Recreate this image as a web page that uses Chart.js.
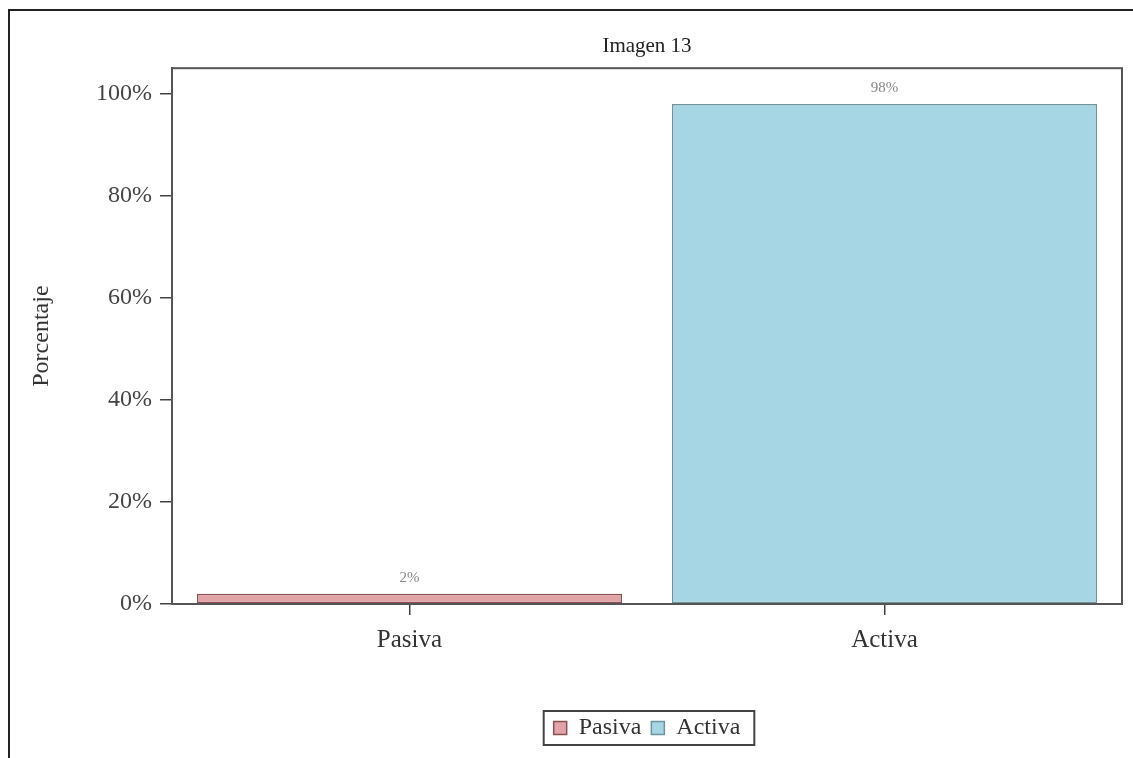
<!DOCTYPE html>
<html>
<head>
<meta charset="utf-8">
<script src="https://cdn.jsdelivr.net/npm/chart.js@4"></script>
<style>
    body { margin: 0; overflow: hidden; background: #fff; }
    #marco {
        position: absolute; left: 8px; top: 9px; width: 1200px; height: 800px;
        border-left: 2px solid #222; border-top: 2px solid #222;
    }
    #contenedor { position: absolute; left: 0; top: 0; width: 1133px; height: 758px; }
</style>
</head>
<body>
<div id="marco"></div>
<div id="contenedor"><canvas id="imagen-grafica"></canvas></div>
<script>
(function () {

    const categorias = ['Pasiva', 'Activa'];
    const pasiva = [2, null];
    const activa = [null, 98];
    const ticksY = [0, 20, 40, 60, 80, 100];

    Chart.defaults.font.family = '"Liberation Serif", "Times New Roman", serif';
    Chart.defaults.color = '#333';

    // marco del area de la grafica
    const marcoArea = {
        id: 'marcoArea',
        afterDraw(chart) {
            const {ctx, chartArea: a} = chart;
            ctx.save();
            ctx.strokeStyle = '#555';
            ctx.lineWidth = 2;
            ctx.strokeRect(a.left, a.top, a.right - a.left, a.bottom - a.top);
            ctx.restore();
        }
    };

    // etiquetas de porcentaje sobre las barras
    const etiquetas = {
        id: 'etiquetas',
        afterDatasetsDraw(chart) {
            const ctx = chart.ctx;
            ctx.save();
            ctx.font = '15px "Liberation Serif", serif';
            ctx.fillStyle = '#888';
            ctx.textAlign = 'center';
            ctx.textBaseline = 'middle';
            chart.data.datasets.forEach((ds, i) => {
                chart.getDatasetMeta(i).data.forEach((bar, j) => {
                    if (ds.data[j] === null) return;
                    ctx.fillText(ds.data[j] + '%', bar.x, bar.y - 16);
                });
            });
            ctx.restore();
        }
    };

    // recuadro alrededor de la leyenda
    const cajaLeyenda = {
        id: 'cajaLeyenda',
        afterDraw(chart) {
            const cajas = chart.legend.legendHitBoxes;
            if (!cajas || !cajas.length) return;
            const izq = Math.min(...cajas.map(c => c.left)) - 10;
            const der = Math.max(...cajas.map(c => c.left + c.width)) + 14;
            const arr = Math.min(...cajas.map(c => c.top)) - 5;
            const aba = Math.max(...cajas.map(c => c.top + c.height)) + 5;
            const ctx = chart.ctx;
            ctx.save();
            ctx.strokeStyle = '#444';
            ctx.lineWidth = 2;
            ctx.strokeRect(izq, arr, der - izq, aba - arr);
            ctx.restore();
        }
    };

    const ctx = document.getElementById('imagen-grafica').getContext('2d');

    new Chart(ctx, {
        type: 'bar',
        data: {
            labels: categorias,
            datasets: [{
                label: 'Pasiva',
                data: pasiva,
                backgroundColor: '#e0a4a7',
                borderColor: '#8c4f52',
                borderWidth: 1.5,
                borderSkipped: false,
                grouped: false,
                categoryPercentage: 1,
                barPercentage: 0.895
            }, {
                label: 'Activa',
                data: activa,
                backgroundColor: '#a6d5e4',
                borderColor: '#6f939d',
                borderWidth: 1.5,
                borderSkipped: false,
                grouped: false,
                categoryPercentage: 1,
                barPercentage: 0.895
            }]
        },
        options: {
            responsive: true,
            maintainAspectRatio: false,
            animation: false,
            layout: {
                padding: { left: 12, right: 11, top: 0, bottom: 8 }
            },
            scales: {
                x: {
                    grid: { drawOnChartArea: false, offset: false, color: '#444', lineWidth: 1.5, tickLength: 11 },
                    border: { color: '#555', width: 2 },
                    ticks: { font: { size: 25 }, color: '#333', padding: 10 },
                    afterFit(scale) { scale.height = 102; }
                },
                y: {
                    min: 0,
                    max: 105,
                    grid: { drawOnChartArea: false, color: '#444', lineWidth: 1.5, tickLength: 12 },
                    border: { color: '#555', width: 2 },
                    ticks: {
                        font: { size: 24 },
                        color: '#444',
                        padding: 8,
                        callback: v => v + '%'
                    },
                    afterBuildTicks(scale) { scale.ticks = ticksY.map(v => ({ value: v })); },
                    afterFit(scale) { scale.width = 160; },
                    title: {
                        display: true,
                        text: 'Porcentaje',
                        font: { size: 24 },
                        color: '#333',
                        padding: { top: 15, bottom: 0 }
                    }
                }
            },
            plugins: {
                title: {
                    display: true,
                    text: 'Imagen 13',
                    fullSize: false,
                    font: { size: 21, weight: 'normal' },
                    color: '#222',
                    padding: { top: 34, bottom: 9 }
                },
                legend: {
                    position: 'bottom',
                    fullSize: false,
                    labels: {
                        boxWidth: 13,
                        boxHeight: 13,
                        padding: 10,
                        font: { size: 24 },
                        color: '#333'
                    }
                },
                tooltip: { enabled: false }
            }
        },
        plugins: [marcoArea, etiquetas, cajaLeyenda]
    });

})();
</script>
</body>
</html>
